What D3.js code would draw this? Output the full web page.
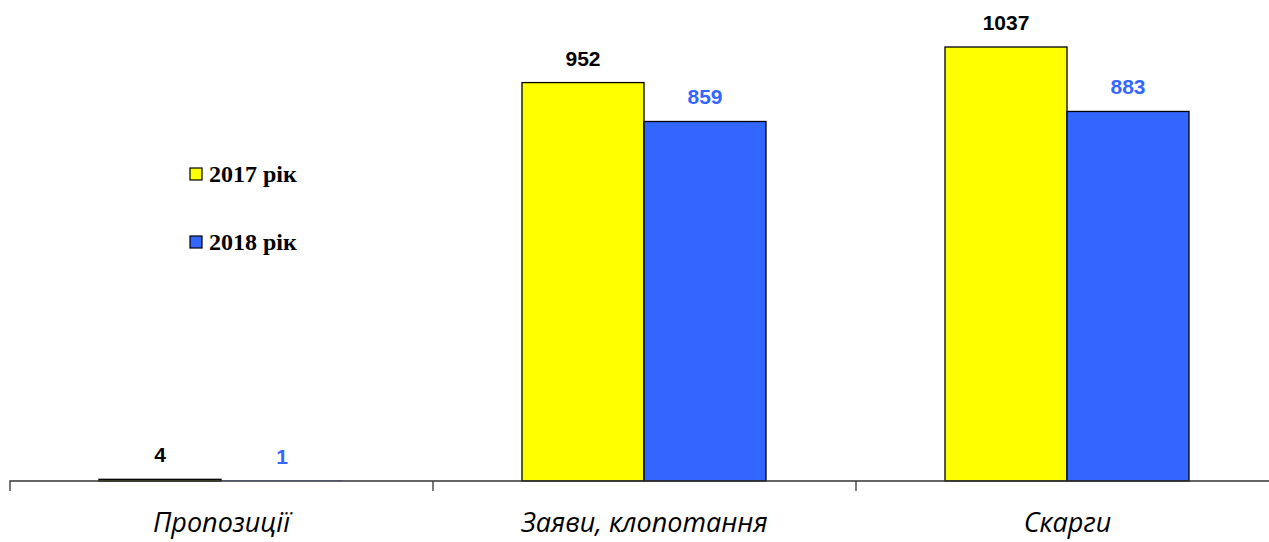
<!DOCTYPE html>
<html>
<head>
<meta charset="utf-8">
<script src="https://cdn.jsdelivr.net/npm/d3@7"></script>
<style>
  body { margin: 0; background: #fff; }
  svg { display: block; }
</style>
</head>
<body>
<div id="chart"></div>
<script>
// Bar chart: proposals / applications / complaints, 2017 vs 2018
const categories = ["Пропозиції", "Заяви, клопотання", "Скарги"];
const seriesNames = ["2017 рік", "2018 рік"];
const values2017 = [4, 952, 1037];
const values2018 = [1, 859, 883];

const W = 1269, H = 542;
const colors = ["#ffff00", "#3366ff"];
const labelColors = ["#000000", "#3366ff"];

const svg = d3.select("#chart").append("svg")
  .attr("width", W)
  .attr("height", H);

// band for each category; last band runs off the right edge
const x = d3.scaleBand()
  .domain(categories)
  .range([10, 10 + 423 * 3])
  .paddingInner(0)
  .paddingOuter(0);

const xInner = d3.scaleBand()
  .domain(seriesNames)
  .range([89, 89 + 244]);

const y = d3.scaleLinear()
  .domain([0, 1037])
  .range([481, 47]);

const rows = categories.map((c, i) => ({
  cat: c,
  vals: [values2017[i], values2018[i]]
}));

const groups = svg.selectAll(".grp")
  .data(rows)
  .enter().append("g")
  .attr("class", "grp")
  .attr("transform", d => `translate(${x(d.cat)},0)`);

groups.selectAll("rect")
  .data(d => d.vals.map((v, j) => ({ v, j })))
  .enter().append("rect")
  .attr("x", d => xInner(seriesNames[d.j]))
  .attr("y", d => y(d.v))
  .attr("width", xInner.bandwidth())
  .attr("height", d => y(0) - y(d.v))
  .attr("fill", d => colors[d.j])
  .attr("stroke", "#000")
  .attr("stroke-width", d => (y(0) - y(d.v) < 1 ? 0 : 1.3));

groups.selectAll("text.val")
  .data(d => d.vals.map((v, j) => ({ v, j })))
  .enter().append("text")
  .attr("class", "val")
  .attr("x", d => xInner(seriesNames[d.j]) + xInner.bandwidth() / 2)
  .attr("y", d => y(d.v) - 17)
  .attr("text-anchor", "middle")
  .style("font-family", "Liberation Sans, Arial, sans-serif")
  .style("font-weight", "bold")
  .style("font-size", "21px")
  .style("fill", d => labelColors[d.j])
  .text(d => d.v);

// x axis
const axis = d3.axisBottom(x).tickSize(10).tickFormat("");
const axisG = svg.append("g")
  .attr("transform", `translate(0,${y(0)})`)
  .call(axis);
axisG.select(".domain").attr("stroke", "#333").attr("stroke-width", 1.3)
  .attr("d", `M10,10V0H${W + 20}`);
axisG.selectAll(".tick line")
  .attr("stroke", "#333")
  .attr("stroke-width", 1.3)
  .attr("transform", d => `translate(${-x.bandwidth() / 2},0)`);
axisG.selectAll(".tick").filter((d, i) => i === 0).remove();

svg.selectAll("text.cat")
  .data(categories)
  .enter().append("text")
  .attr("class", "cat")
  .attr("x", d => x(d) + x.bandwidth() / 2)
  .attr("y", 532)
  .attr("text-anchor", "middle")
  .style("font-family", "Open Sans, Liberation Sans, sans-serif")
  .style("font-style", "italic")
  .style("font-size", "27px")
  .style("fill", "#000")
  .text(d => d);

// legend
const legend = svg.selectAll(".leg")
  .data(seriesNames)
  .enter().append("g")
  .attr("class", "leg")
  .attr("transform", (d, i) => `translate(190,${168 + i * 68})`);

legend.append("rect")
  .attr("width", 12)
  .attr("height", 12)
  .attr("fill", (d, i) => colors[i])
  .attr("stroke", "#000")
  .attr("stroke-width", 1.2);

legend.append("text")
  .attr("x", 19)
  .attr("y", 14)
  .style("font-family", "Liberation Serif, Times New Roman, serif")
  .style("font-weight", "bold")
  .style("font-size", "24px")
  .text(d => d);
</script>
</body>
</html>
